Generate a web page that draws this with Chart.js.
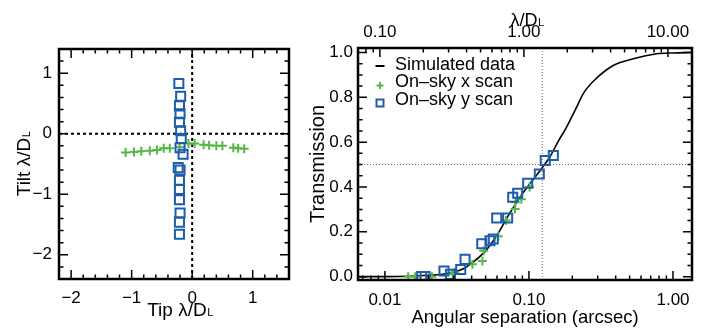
<!DOCTYPE html>
<html>
<head>
<meta charset="utf-8">
<script src="https://cdn.jsdelivr.net/npm/chart.js@4.4.1/dist/chart.umd.min.js"></script>
<style>
  body { margin: 0; background: #fff; width: 705px; height: 329px; overflow: hidden; position: relative; }
  #cl { position: absolute; left: 0; top: 0; }
  #cr { position: absolute; left: 300px; top: 0; }
</style>
</head>
<body>
<canvas id="cl" width="300" height="329"></canvas>
<canvas id="cr" width="405" height="329"></canvas>
<script>
// --- left panel : tip/tilt offsets (lambda/D) ---
const tipRange = [-2.2, 1.6];
const tiltRange = [-2.4, 1.4];
const tipTicks = [-2, -1, 0, 1];
const tiltTicks = [-2, -1, 0, 1];

const xScanTip  = [-1.10, -0.96, -0.84, -0.70, -0.58, -0.47, -0.37, -0.21, -0.06, 0.04, 0.19, 0.28, 0.40, 0.50, 0.68, 0.76, 0.86];
const xScanTilt = [-0.31, -0.30, -0.29, -0.28, -0.27, -0.24, -0.24, -0.22, -0.16, -0.16, -0.18, -0.19, -0.20, -0.20, -0.23, -0.24, -0.25];

const yScanTip  = [-0.22, -0.19, -0.21, -0.20, -0.21, -0.19, -0.18, -0.20, -0.15, -0.23, -0.20, -0.21, -0.21, -0.21, -0.20, -0.21, -0.21];
const yScanTilt = [0.83, 0.62, 0.46, 0.33, 0.19, 0.05, -0.08, -0.23, -0.34, -0.56, -0.60, -0.77, -0.92, -1.09, -1.31, -1.46, -1.66];

// --- right panel : transmission vs separation ---
const sepRange = [0.0065, 1.355];
const transRange = [-0.015, 1.02];
const sepTicks = [0.01, 0.1, 1];
const lodTicks = [0.1, 1, 10];
const transTicks = [0, 0.2, 0.4, 0.6, 0.8, 1.0];
const arcsecPerLod = 0.0922;   // top axis conversion
const halfSep = 0.1236;        // 50% transmission point
const halfTrans = 0.5;

const simSep   = [0.0065, 0.01, 0.015, 0.02, 0.025, 0.03, 0.035, 0.04, 0.05, 0.06, 0.07, 0.08, 0.09, 0.10, 0.12, 0.14, 0.16, 0.18, 0.21, 0.24, 0.30, 0.385, 0.53, 0.77, 1.0, 1.355];
const simTrans = [0.0, 0.0, 0.002, 0.006, 0.011, 0.02, 0.035, 0.06, 0.115, 0.185, 0.26, 0.32, 0.37, 0.41, 0.475, 0.535, 0.605, 0.66, 0.745, 0.82, 0.89, 0.942, 0.972, 0.994, 0.998, 1.0];

const xSep   = [0.0145, 0.0162, 0.0212, 0.0295, 0.0305, 0.0405, 0.0475, 0.0485, 0.0612, 0.0692, 0.0800, 0.0805, 0.0885, 0.1010];
const xTrans = [0.0, 0.0, 0.0, 0.012, 0.02, 0.055, 0.07, 0.115, 0.18, 0.252, 0.302, 0.332, 0.345, 0.40];

const ySep   = [0.018, 0.019, 0.0257, 0.0285, 0.0336, 0.036, 0.047, 0.0536, 0.0565, 0.0597, 0.0711, 0.0771, 0.0835, 0.098, 0.118, 0.1297, 0.1476];
const yTrans = [0.0, 0.0, 0.025, 0.01, 0.032, 0.077, 0.147, 0.16, 0.168, 0.262, 0.262, 0.354, 0.372, 0.417, 0.458, 0.518, 0.54];

const GREEN = '#57b646';
const BLUE = '#1d5dab';
const FONT = '"Liberation Sans", Arial, Helvetica, sans-serif';

Chart.defaults.font.family = FONT;
Chart.defaults.color = '#000';

const pts = (xs, ys) => xs.map((x, i) => ({ x, y: ys[i] }));
const fixTicks = vals => s => { s.ticks = vals.map(v => ({ value: v })); };
const minus = v => (v < 0 ? '\u2212' + Math.abs(v) : String(v));

function noPad(size) {
  return s => {
    if (s.isHorizontal()) s.height = size; else s.width = size;
    s.paddingLeft = s.paddingRight = s.paddingTop = s.paddingBottom = 0;
  };
}

function linMinors(lo, hi, step) {
  const out = [];
  for (let v = Math.ceil(lo / step) * step; v <= hi + 1e-9; v += step) out.push(+v.toFixed(4));
  return out;
}
function logMinors(lo, hi) {
  const out = [];
  for (let e = Math.floor(Math.log10(lo)); e <= Math.ceil(Math.log10(hi)); e++)
    for (let m = 1; m <= 9; m++) { const v = m * Math.pow(10, e); if (v >= lo && v <= hi) out.push(v); }
  return out;
}

// inward tick marks + frame, IDL style
function tickRow(ctx, scale, vals, len, edge, dir) {
  const a = scale.chart.chartArea;
  vals.forEach(v => {
    const p = scale.getPixelForValue(v);
    if (scale.isHorizontal()) {
      if (p < a.left - 0.5 || p > a.right + 0.5) return;
      ctx.moveTo(p, edge); ctx.lineTo(p, edge + dir * len);
    } else {
      if (p < a.top - 0.5 || p > a.bottom + 0.5) return;
      ctx.moveTo(edge, p); ctx.lineTo(edge + dir * len, p);
    }
  });
}

function drawLodTitle(ctx, prefix, cx, base, rotate, size) {
  const sub = Math.round(size * 0.6);
  ctx.save();
  ctx.translate(cx, base);
  if (rotate) ctx.rotate(-Math.PI / 2);
  ctx.fillStyle = '#000';
  ctx.textBaseline = 'alphabetic';
  ctx.textAlign = 'left';
  ctx.font = size + 'px ' + FONT;
  const main = prefix + '\u03bb/D';
  const w1 = ctx.measureText(main).width;
  ctx.font = sub + 'px ' + FONT;
  const w2 = ctx.measureText('L').width;
  const x = -(w1 + w2) / 2;
  ctx.font = size + 'px ' + FONT;
  ctx.fillText(main, x, 0);
  ctx.font = sub + 'px ' + FONT;
  ctx.fillText('L', x + w1 + 0.5, 0);
  ctx.restore();
}

function drawTitle(ctx, text, cx, base, rotate, size) {
  ctx.save();
  ctx.translate(cx, base);
  if (rotate) ctx.rotate(-Math.PI / 2);
  ctx.fillStyle = '#000';
  ctx.font = size + 'px ' + FONT;
  ctx.textAlign = 'center';
  ctx.textBaseline = 'alphabetic';
  ctx.fillText(text, 0, 0);
  ctx.restore();
}

const leftDeco = {
  id: 'leftDeco',
  afterDatasetsDraw(chart) {
    const ctx = chart.ctx, a = chart.chartArea, sx = chart.scales.x, sy = chart.scales.y;
    ctx.save();
    ctx.strokeStyle = '#000';
    ctx.lineWidth = 1.5;
    ctx.beginPath();
    tickRow(ctx, sx, tipTicks, 9, a.bottom, -1);
    tickRow(ctx, sx, tipTicks, 9, a.top, 1);
    tickRow(ctx, sy, tiltTicks, 9, a.left, 1);
    tickRow(ctx, sy, tiltTicks, 9, a.right, -1);
    tickRow(ctx, sx, linMinors(tipRange[0], tipRange[1], 0.2), 4.5, a.bottom, -1);
    tickRow(ctx, sx, linMinors(tipRange[0], tipRange[1], 0.2), 4.5, a.top, 1);
    tickRow(ctx, sy, linMinors(tiltRange[0], tiltRange[1], 0.2), 4.5, a.left, 1);
    tickRow(ctx, sy, linMinors(tiltRange[0], tiltRange[1], 0.2), 4.5, a.right, -1);
    ctx.stroke();
    ctx.lineWidth = 2.5;
    ctx.strokeRect(a.left, a.top, a.right - a.left, a.bottom - a.top);
    ctx.restore();
    drawLodTitle(ctx, 'Tip ', 180, a.bottom + 37, false, 19);
    drawLodTitle(ctx, 'Tilt ', 30, (a.top + a.bottom) / 2, true, 19);
  }
};

const rightDeco = {
  id: 'rightDeco',
  afterDatasetsDraw(chart) {
    const ctx = chart.ctx, a = chart.chartArea;
    const sx = chart.scales.x, sx2 = chart.scales.x2, sy = chart.scales.y;
    ctx.save();
    ctx.strokeStyle = '#000';
    ctx.lineWidth = 1.5;
    ctx.beginPath();
    tickRow(ctx, sx, sepTicks, 9, a.bottom, -1);
    tickRow(ctx, sx, logMinors(sepRange[0], sepRange[1]), 4.5, a.bottom, -1);
    tickRow(ctx, sx2, lodTicks, 9, a.top, 1);
    tickRow(ctx, sx2, logMinors(sx2.min, sx2.max), 4.5, a.top, 1);
    tickRow(ctx, sy, transTicks, 9, a.left, 1);
    tickRow(ctx, sy, transTicks, 9, a.right, -1);
    tickRow(ctx, sy, linMinors(0, 1, 0.05), 4.5, a.left, 1);
    tickRow(ctx, sy, linMinors(0, 1, 0.05), 4.5, a.right, -1);
    ctx.stroke();
    ctx.lineWidth = 2.5;
    ctx.strokeRect(a.left, a.top, a.right - a.left, a.bottom - a.top);

    // legend, in dataset order
    const lx = a.left + 22;
    let ly = a.top + 17;
    ctx.font = '18px ' + FONT;
    ctx.fillStyle = '#000';
    ctx.textBaseline = 'middle';
    ctx.textAlign = 'left';
    chart.data.datasets.filter(d => d.inLegend).forEach(d => {
      ctx.beginPath();
      if (d.pointStyle === 'cross') {
        ctx.strokeStyle = d.borderColor; ctx.lineWidth = 2;
        ctx.moveTo(lx - 3.5, ly + 3); ctx.lineTo(lx + 3.5, ly + 3);
        ctx.moveTo(lx, ly - 0.5); ctx.lineTo(lx, ly + 6.5);
      } else if (d.pointStyle === 'rect') {
        ctx.strokeStyle = d.borderColor; ctx.lineWidth = 2;
        ctx.rect(lx - 3.5, ly - 0.5, 7, 7);
      } else {
        ctx.strokeStyle = '#000'; ctx.lineWidth = 2;
        ctx.moveTo(lx - 4.5, ly + 1); ctx.lineTo(lx + 4.5, ly + 1);
      }
      ctx.stroke();
      ctx.fillText(d.label, lx + 15, ly);
      ly += 17.5;
    });
    ctx.restore();

    drawTitle(ctx, 'Angular separation (arcsec)', (a.left + a.right) / 2, a.bottom + 43, false, 18.5);
    drawTitle(ctx, 'Transmission', 24, (a.top + a.bottom) / 2, true, 20);
    drawLodTitle(ctx, '', (a.left + a.right) / 2 + 2, 26, false, 18);
  }
};

const tickFont = { size: 17 };

new Chart(document.getElementById('cl'), {
  type: 'scatter',
  data: {
    datasets: [
      { label: 'On\u2013sky y scan', data: pts(yScanTip, yScanTilt), pointStyle: 'rect', pointRadius: 6.4,
        borderColor: BLUE, backgroundColor: 'rgba(0,0,0,0)', borderWidth: 2, order: 0 },
      { label: 'On\u2013sky x scan', data: pts(xScanTip, xScanTilt), pointStyle: 'cross', pointRadius: 4.5,
        borderColor: GREEN, borderWidth: 2, order: 1 },
      { type: 'line', label: 'tip0', data: tiltRange.map(y => ({ x: 0, y })), borderColor: '#000',
        borderWidth: 2, borderDash: [3, 3], pointRadius: 0, order: 5 },
      { type: 'line', label: 'tilt0', data: tipRange.map(x => ({ x, y: 0 })), borderColor: '#000',
        borderWidth: 2, borderDash: [3, 3], pointRadius: 0, order: 5 }
    ]
  },
  options: {
    responsive: false, animation: false, events: [],
    layout: { padding: { top: 49, right: 11, left: 0, bottom: 0 } },
    plugins: { legend: { display: false }, tooltip: { enabled: false } },
    scales: {
      x: { type: 'linear', min: tipRange[0], max: tipRange[1], grid: { display: false, drawTicks: false },
        border: { display: false }, afterBuildTicks: fixTicks(tipTicks), afterFit: noPad(50),
        ticks: { font: tickFont, padding: 9, maxRotation: 0, autoSkip: false, callback: minus } },
      y: { type: 'linear', min: tiltRange[0], max: tiltRange[1], grid: { display: false, drawTicks: false },
        border: { display: false }, afterBuildTicks: fixTicks(tiltTicks), afterFit: noPad(59),
        ticks: { font: tickFont, padding: 7, autoSkip: false, callback: minus } }
    }
  },
  plugins: [leftDeco]
});

new Chart(document.getElementById('cr'), {
  type: 'scatter',
  data: {
    datasets: [
      { type: 'line', label: 'Simulated data', inLegend: true, data: pts(simSep, simTrans), borderColor: '#000',
        borderWidth: 1.6, pointRadius: 0, cubicInterpolationMode: 'monotone', order: 2 },
      { label: 'On\u2013sky x scan', inLegend: true, data: pts(xSep, xTrans), pointStyle: 'cross', pointRadius: 4.5,
        borderColor: GREEN, borderWidth: 2, order: 1 },
      { label: 'On\u2013sky y scan', inLegend: true, data: pts(ySep, yTrans), pointStyle: 'rect', pointRadius: 6.4,
        borderColor: BLUE, backgroundColor: 'rgba(0,0,0,0)', borderWidth: 2, order: 0 },
      { type: 'line', label: 'half-v', data: transRange.map(y => ({ x: halfSep, y })), borderColor: '#666',
        borderWidth: 1, borderDash: [1, 2], pointRadius: 0, order: 5 },
      { type: 'line', label: 'half-h', data: sepRange.map(x => ({ x, y: halfTrans })), borderColor: '#666',
        borderWidth: 1, borderDash: [1, 2], pointRadius: 0, order: 5 }
    ]
  },
  options: {
    responsive: false, animation: false, events: [],
    layout: { padding: { top: 0, right: 13, left: 0, bottom: 0 } },
    plugins: { legend: { display: false }, tooltip: { enabled: false } },
    scales: {
      x: { type: 'logarithmic', position: 'bottom', min: sepRange[0], max: sepRange[1],
        grid: { display: false, drawTicks: false }, border: { display: false },
        afterBuildTicks: fixTicks(sepTicks), afterFit: noPad(49),
        ticks: { font: tickFont, padding: 10, maxRotation: 0, autoSkip: false, callback: v => Number(v).toFixed(2) } },
      x2: { type: 'logarithmic', position: 'top', min: sepRange[0] / arcsecPerLod, max: sepRange[1] / arcsecPerLod,
        grid: { display: false, drawTicks: false }, border: { display: false },
        afterBuildTicks: fixTicks(lodTicks), afterFit: noPad(48),
        ticks: { font: tickFont, padding: 5, maxRotation: 0, autoSkip: false, callback: v => Number(v).toFixed(2) } },
      y: { type: 'linear', min: transRange[0], max: transRange[1], grid: { display: false, drawTicks: false },
        border: { display: false }, afterBuildTicks: fixTicks(transTicks), afterFit: noPad(58),
        ticks: { font: tickFont, padding: 5, autoSkip: false, callback: v => Number(v).toFixed(1) } }
    }
  },
  plugins: [rightDeco]
});
</script>
</body>
</html>
